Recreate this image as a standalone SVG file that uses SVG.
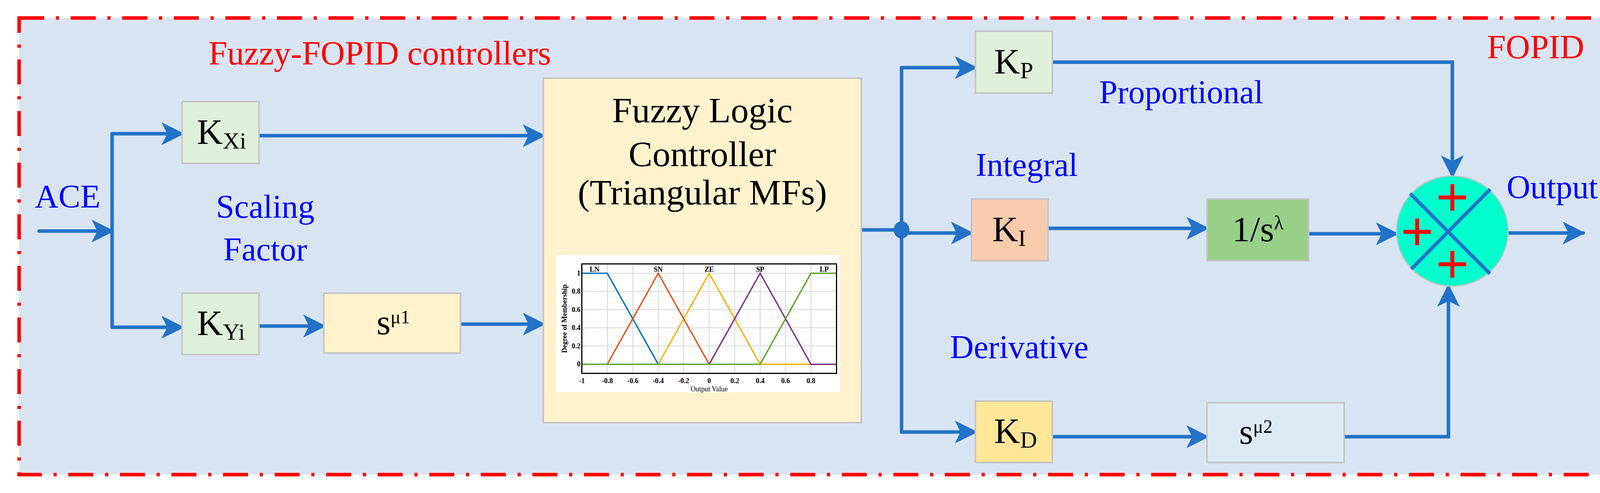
<svg xmlns="http://www.w3.org/2000/svg" width="4166" height="1261" viewBox="0 0 4166 1261">
<style>
.ln{fill:none;stroke:#2272C8;stroke-width:9;stroke-linecap:round}
.bx{stroke:#C4C4C4;stroke-width:4}
.k{font-family:"Liberation Serif",serif;font-size:92px;fill:#000}
.lb{font-family:"Liberation Serif",serif;font-size:84px;fill:#0000FF}
.rd{font-family:"Liberation Serif",serif;font-size:86px;fill:#FF0000}
.ch{font-family:"Liberation Serif",serif;font-weight:bold;font-size:18px;fill:#000}
.gr{stroke:#D6D6D6;stroke-width:2}
.mf{fill:none;stroke-width:3.5}
</style>
<defs>
<marker id="a" viewBox="0 0 10 10" refX="9" refY="5" markerWidth="6.5" markerHeight="6.5" markerUnits="strokeWidth" orient="auto"><path d="M0,0 L10,5 L0,10 L2.5,5 Z" fill="#2272C8"/></marker>
</defs>
<rect x="0" y="0" width="4166" height="1261" fill="#fff"/>
<rect id="frame" x="49" y="46" width="4065" height="1168" fill="#D9E4F3" stroke="#FF0000" stroke-width="9" stroke-dasharray="64 30 8 30"/>
<text class="rd" x="534" y="165">Fuzzy-FOPID controllers</text>
<text class="rd" x="3807" y="149">FOPID</text>
<text class="lb" x="89" y="531">ACE</text>
<text class="lb" x="679" y="557" text-anchor="middle">Scaling</text>
<text class="lb" x="679" y="666" text-anchor="middle">Factor</text>
<text class="lb" x="2814" y="264">Proportional</text>
<text class="lb" x="2498" y="450">Integral</text>
<text class="lb" x="2432" y="916">Derivative</text>
<text class="lb" x="3857" y="507">Output</text>

<g id="connectors">
<path class="ln" d="M100,591 H287" marker-end="url(#a)"/>
<path class="ln" d="M287,342 V837"/>
<path class="ln" d="M287,342 H466" marker-end="url(#a)"/>
<path class="ln" d="M287,837 H466" marker-end="url(#a)"/>
<path class="ln" d="M663,347 H1391" marker-end="url(#a)"/>
<path class="ln" d="M663,834 H829" marker-end="url(#a)"/>
<path class="ln" d="M1179,829 H1391" marker-end="url(#a)"/>
<path class="ln" d="M2205,588 H2308"/>
<path class="ln" d="M2308,173 V1105"/>
<path class="ln" d="M2308,173 H2497" marker-end="url(#a)"/>
<path class="ln" d="M2308,596 H2487" marker-end="url(#a)"/>
<path class="ln" d="M2308,1105 H2497" marker-end="url(#a)"/>
<path class="ln" d="M2694,159 H3718 V450" marker-end="url(#a)"/>
<path class="ln" d="M2683,584 H3090" marker-end="url(#a)"/>
<path class="ln" d="M3350,598 H3575" marker-end="url(#a)"/>
<path class="ln" d="M2694,1117 H3090" marker-end="url(#a)"/>
<path class="ln" d="M3441,1117 H3708 V732" marker-end="url(#a)"/>
<path class="ln" d="M3861,596 H4053" marker-end="url(#a)"/>
<ellipse cx="2308" cy="588" rx="20" ry="22" fill="#2272C8"/>
</g>

<g id="kxi"><rect class="bx" x="466" y="260" width="197" height="158" fill="#E0EFDA"/><text class="k" x="504" y="368">K<tspan font-size="60" dy="12">Xi</tspan></text></g>
<g id="kyi"><rect class="bx" x="466" y="750" width="197" height="157" fill="#E0EFDA"/><text class="k" x="504" y="857">K<tspan font-size="60" dy="12">Yi</tspan></text></g>
<g id="smu1"><rect class="bx" x="829" y="750" width="350" height="153" fill="#FFF2CC"/><text class="k" x="964" y="855" font-size="72">s<tspan font-size="48" dy="-28">μ1</tspan></text></g>

<g id="flc">
<rect class="bx" x="1391" y="200" width="814" height="881" fill="#FFF2CC"/>
<text class="k" x="1798" y="313" text-anchor="middle" font-size="72">Fuzzy Logic</text>
<text class="k" x="1798" y="425" text-anchor="middle" font-size="72">Controller</text>
<text class="k" x="1798" y="523" text-anchor="middle" font-size="72">(Triangular MFs)</text>
<rect x="1424" y="652" width="726" height="351" fill="#fff"/>
<g class="gr">
<line x1="1554.7" y1="675" x2="1554.7" y2="955"/><line x1="1619.9" y1="675" x2="1619.9" y2="955"/><line x1="1685" y1="675" x2="1685" y2="955"/><line x1="1750" y1="675" x2="1750" y2="955"/><line x1="1815.5" y1="675" x2="1815.5" y2="955"/><line x1="1881" y1="675" x2="1881" y2="955"/><line x1="1946" y1="675" x2="1946" y2="955"/><line x1="2011" y1="675" x2="2011" y2="955"/><line x1="2076" y1="675" x2="2076" y2="955"/>
<line x1="1489.5" y1="699" x2="2141.5" y2="699"/><line x1="1489.5" y1="745.5" x2="2141.5" y2="745.5"/><line x1="1489.5" y1="792" x2="2141.5" y2="792"/><line x1="1489.5" y1="838.6" x2="2141.5" y2="838.6"/><line x1="1489.5" y1="885" x2="2141.5" y2="885"/>
</g>
<polyline class="mf" stroke="#FFB000" points="1685,931.7 1815.5,699 1946,931.7 2141.5,931.7"/>
<polyline class="mf" stroke="#7E2F8E" points="1815.5,931.7 1946,699 2076,931.7 2141.5,931.7"/>
<polyline class="mf" stroke="#0072BD" points="1489.5,699 1554.7,699 1685,931.7"/>
<polyline class="mf" stroke="#E8501A" points="1554.7,931.7 1685,699 1815.5,931.7"/>
<polyline class="mf" stroke="#5BA32B" points="1489.5,931.7 1946,931.7 2076,699 2141.5,699"/>
<rect x="1489.5" y="675" width="652" height="280" fill="none" stroke="#000" stroke-width="3"/>
<g class="ch">
<text x="1522" y="695" text-anchor="middle">LN</text><text x="1685" y="695" text-anchor="middle">SN</text><text x="1815.5" y="695" text-anchor="middle">ZE</text><text x="1946" y="695" text-anchor="middle">SP</text><text x="2110" y="695" text-anchor="middle">LP</text>
<g text-anchor="end"><text x="1486" y="705">1</text><text x="1486" y="751">0.8</text><text x="1486" y="798">0.6</text><text x="1486" y="844">0.4</text><text x="1486" y="891">0.2</text><text x="1486" y="937">0</text></g>
<g text-anchor="middle"><text x="1489.5" y="980">-1</text><text x="1554.7" y="980">-0.8</text><text x="1619.9" y="980">-0.6</text><text x="1685" y="980">-0.4</text><text x="1750" y="980">-0.2</text><text x="1815.5" y="980">0</text><text x="1881" y="980">0.2</text><text x="1946" y="980">0.4</text><text x="2011" y="980">0.6</text><text x="2076" y="980">0.8</text>
<text x="1815.5" y="1001" font-weight="normal">Output Value</text>
<text transform="translate(1451,815) rotate(-90)">Degree of Membership</text></g>
</g>
</g>

<g id="kp"><rect class="bx" x="2497" y="80" width="197" height="158" fill="#E0EFDA"/><text class="k" x="2545" y="188">K<tspan font-size="60" dy="12">P</tspan></text></g>
<g id="ki"><rect class="bx" x="2487" y="509" width="196" height="158" fill="#F8CBAD"/><text class="k" x="2540" y="617">K<tspan font-size="60" dy="12">I</tspan></text></g>
<g id="kd"><rect class="bx" x="2497" y="1026" width="197" height="157" fill="#FFE699"/><text class="k" x="2545" y="1133">K<tspan font-size="60" dy="12">D</tspan></text></g>
<g id="inv"><rect class="bx" x="3090" y="509" width="260" height="158" fill="#98D08A"/><text class="k" x="3220" y="617" text-anchor="middle" font-size="88">1/s<tspan font-size="50" dy="-30">λ</tspan></text></g>
<g id="smu2"><rect class="bx" x="3090" y="1030" width="351" height="153" fill="#DDEAF6"/><text class="k" x="3215" y="1135" text-anchor="middle" font-size="72">s<tspan font-size="48" dy="-28">μ2</tspan></text></g>
<g id="sum">
<ellipse cx="3718" cy="591" rx="143" ry="141" fill="#00FFCC" stroke="#C4C4C4" stroke-width="3"/>
<line x1="3610" y1="495" x2="3814" y2="700" stroke="#2272C8" stroke-width="9"/>
<line x1="3815" y1="484" x2="3613" y2="688" stroke="#2272C8" stroke-width="9"/>
<g stroke="#FF0000" stroke-width="10">
<line x1="3683" y1="505" x2="3753" y2="505"/><line x1="3718" y1="471" x2="3718" y2="539"/>
<line x1="3593" y1="593" x2="3663" y2="593"/><line x1="3628" y1="559" x2="3628" y2="627"/>
<line x1="3683" y1="676" x2="3753" y2="676"/><line x1="3718" y1="642" x2="3718" y2="710"/>
</g>
</g>
</svg>
